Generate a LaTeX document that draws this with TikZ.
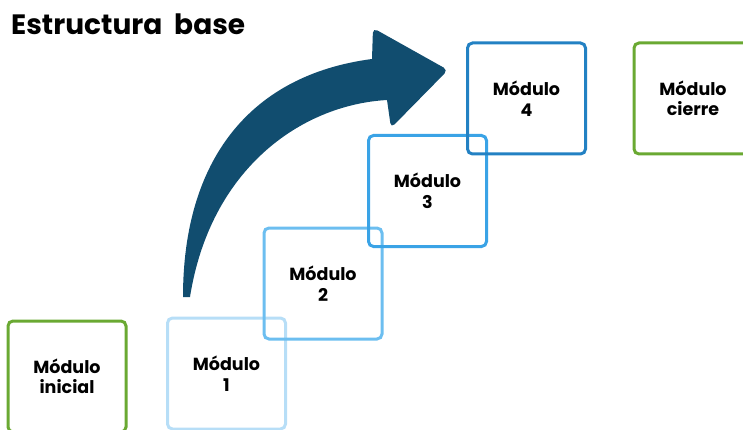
\documentclass[tikz,border=0pt]{standalone}
\usepackage{fontspec}
\setmainfont{Poppins}
\definecolor{arrowblue}{HTML}{114D6F}
\definecolor{modgreen}{HTML}{6AA932}
\definecolor{blueone}{HTML}{B7DEF7}
\definecolor{bluetwo}{HTML}{6CBEF0}
\definecolor{bluethree}{HTML}{3AA3E6}
\definecolor{bluefour}{HTML}{2381C3}

\begin{document}
\begin{tikzpicture}[x=1pt, y=-1pt,
ModStyle/.style={draw, line width=3pt, rounded corners=5pt,
                minimum width=118pt, minimum height=111pt, align=center,
                font=\bfseries\fontsize{17.5}{20.5}\selectfont},]
\clip (0,0) rectangle (743,430);
\useasboundingbox (0,0) rectangle (743,430);
\node [anchor=base west, inner sep=0pt, font=\bfseries\fontsize{28}{32}\selectfont] (title) at (11,35) {Estructura~~base};
% curved arrow
\fill [arrowblue] (183,297) .. controls (183,160) and (250,75) .. (372,59)
      [rounded corners=5pt] -- (373,28) -- (448,70) -- (391,128)
      [sharp corners] -- (387,100) .. controls (300,105) and (210,170) .. (190,297) -- cycle;
% modules
\node [ModStyle, draw=modgreen] (ini) at (67,376.5) {Módulo\\inicial};
\node [ModStyle, draw=blueone] (m1) at (226.5,373.5) {Módulo\\1};
\node [ModStyle, draw=bluetwo] (m2) at (323,283.5) {Módulo\\2};
\node [ModStyle, draw=bluethree] (m3) at (427.5,191) {Módulo\\3};
\node [ModStyle, draw=bluefour] (m4) at (526.5,98.5) {Módulo\\4};
\node [ModStyle, draw=modgreen] (fin) at (693,98.5) {Módulo\\cierre};
\end{tikzpicture}
\end{document}
